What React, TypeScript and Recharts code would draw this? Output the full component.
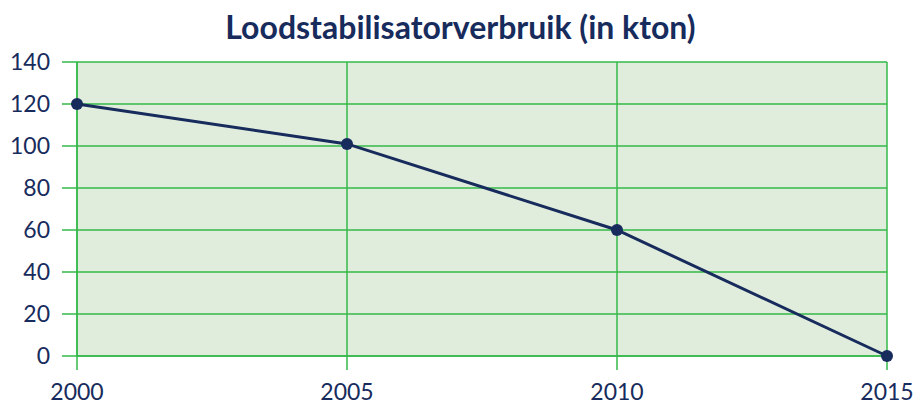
import { LineChart, Line, XAxis, YAxis, CartesianGrid } from "recharts";

const years = [2000, 2005, 2010, 2015];
const verbruik = [120, 101, 60, 0];
const yTicks = [0, 20, 40, 60, 80, 100, 120, 140];

const data = years.map((jaar, i) => ({ jaar, waarde: verbruik[i] }));

const navy = "#172b5c";
const green = "#35b84a";
const font = "Lato, 'Open Sans', sans-serif";

export default function App() {
  return (
    <div
      style={{
        position: "absolute",
        left: 0,
        top: 0,
        width: 921,
        height: 408,
        background: "#ffffff",
        fontFamily: font,
      }}
    >
      <div
        style={{
          position: "absolute",
          top: 7,
          left: 0,
          width: 921,
          textAlign: "center",
          fontSize: 32,
          fontWeight: 700,
          color: navy,
        }}
      >
        Loodstabilisatorverbruik (in kton)
      </div>
      <LineChart
        width={921}
        height={408}
        data={data}
        margin={{ top: 62, right: 34, bottom: 0, left: 0 }}
      >
        <CartesianGrid
          stroke={green}
          strokeWidth={1.5}
          fill="#e1eddc"
          fillOpacity={1}
          horizontalValues={yTicks}
          verticalValues={years}
        />
        <XAxis
          dataKey="jaar"
          type="number"
          domain={[2000, 2015]}
          ticks={years}
          height={52}
          tickSize={14}
          tickMargin={14}
          axisLine={{ stroke: green, strokeWidth: 1.5 }}
          tickLine={{ stroke: green, strokeWidth: 1.5 }}
          tick={{ fill: navy, fontSize: 23, fontFamily: font }}
        />
        <YAxis
          type="number"
          domain={[0, 140]}
          ticks={yTicks}
          width={77}
          tickSize={15}
          tickMargin={12}
          axisLine={{ stroke: green, strokeWidth: 1.5 }}
          tickLine={{ stroke: green, strokeWidth: 1.5 }}
          tick={{ fill: navy, fontSize: 23, fontFamily: font }}
        />
        <Line
          dataKey="waarde"
          type="linear"
          stroke={navy}
          strokeWidth={3}
          dot={{ r: 6, fill: navy, stroke: navy, strokeWidth: 0 }}
          isAnimationActive={false}
        />
      </LineChart>
    </div>
  );
}
